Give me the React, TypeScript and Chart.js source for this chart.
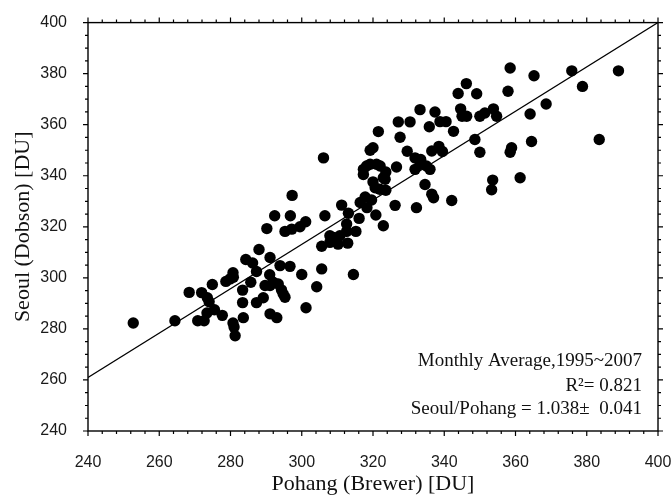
import React, { useEffect, useRef } from "react";
import { Chart, registerables } from "chart.js";

Chart.register(...registerables);

// Monthly average total ozone, Pohang (Brewer) vs Seoul (Dobson), 1995~2007 [DU]
const pohang: number[] = [
  252.7, 264.4, 268.4, 270.8, 272.6, 271.9, 273.5, 274.0, 274.9, 273.4,
  275.5, 277.7, 278.7, 279.9, 280.7, 280.8, 280.7, 281.0, 281.3, 283.6,
  283.4, 283.4, 284.3, 285.7, 286.2, 287.3, 287.3, 288.0, 289.2, 289.7,
  291.0, 291.1, 293.0, 291.1, 292.0, 293.4, 294.3, 294.8, 295.3, 291.1,
  293.9, 296.7, 290.2, 292.4, 296.8, 295.3, 297.2, 299.5, 301.1, 297.3,
  306.5, 300.0, 301.2, 304.2, 305.6, 305.6, 307.9, 307.9, 306.1, 308.9,
  310.7, 312.6, 315.2, 310.2, 312.9, 314.5, 311.2, 313.1, 312.6, 316.1,
  316.4, 317.8, 318.3, 319.6, 320.8, 322.9, 326.2, 317.3, 320.0, 322.9,
  321.9, 323.6, 317.3, 318.2, 319.2, 321.0, 322.0, 323.4, 320.6, 323.6,
  319.2, 320.0, 321.5, 326.6, 329.6, 331.8, 333.4, 331.8, 335.0, 336.0,
  334.6, 336.5, 337.0, 342.1, 332.2, 327.6, 327.1, 330.4, 333.2, 337.4,
  335.8, 338.8, 340.5, 342.6, 336.5, 338.5, 339.5, 343.9, 346.2, 344.6,
  345.0, 346.3, 349.1, 350.0, 351.4, 353.8, 354.7, 348.6, 350.0, 358.5,
  357.9, 365.2, 375.8, 388.9, 378.8, 368.6, 364.1, 358.9, 358.5, 364.5,
  383.5, 353.6, 353.3, 361.3, 333.2,
];
const seoul: number[] = [
  282.3, 283.2, 294.3, 283.2, 283.2, 294.2, 292.2, 290.6, 297.4, 286.2,
  287.5, 285.3, 298.6, 299.6, 302.0, 300.2, 282.3, 280.7, 277.3, 284.4,
  290.3, 295.2, 307.2, 298.3, 305.8, 302.5, 290.3, 311.1, 292.2, 297.0,
  301.2, 285.9, 284.4, 297.0, 298.3, 297.6, 295.3, 293.7, 292.4, 308.0,
  304.8, 304.5, 319.3, 324.3, 324.3, 318.2, 319.1, 320.0, 322.0, 332.3,
  324.3, 301.3, 288.3, 296.5, 303.5, 312.4, 316.5, 313.9, 347.0, 315.8,
  316.5, 318.2, 318.2, 313.2, 313.6, 301.3, 328.5, 325.3, 321.1, 323.3,
  329.5, 331.7, 327.5, 330.5, 324.6, 320.4, 328.4, 340.5, 337.6, 339.2,
  334.7, 341.5, 342.5, 343.8, 344.5, 344.5, 343.8, 338.6, 335.3, 334.3,
  350.0, 351.0, 357.3, 343.4, 349.6, 347.0, 346.4, 342.5, 343.8, 342.5,
  336.6, 332.8, 331.4, 330.3, 327.5, 355.1, 361.1, 361.1, 365.9, 365.0,
  359.2, 361.2, 361.2, 357.4, 349.7, 351.5, 349.5, 372.2, 376.1, 366.2,
  363.3, 363.3, 372.1, 363.3, 364.6, 366.2, 363.3, 354.2, 349.2, 382.2,
  373.1, 379.2, 381.1, 381.1, 375.0, 368.1, 364.2, 351.0, 349.2, 353.4,
  354.2, 338.3, 334.5, 339.2, 344.5,
];

// Fitted line end points
const fitX: number[] = [240, 400];
const fitY: number[] = [261, 400];

// Axis ticks
const xTicks: number[] = [240, 260, 280, 300, 320, 340, 360, 380, 400];
const yTicks: number[] = [240, 260, 280, 300, 320, 340, 360, 380, 400];
const xMinorStep = 4;
const yMinorStep = 5;

const xTitle = "Pohang (Brewer) [DU]";
const yTitle = "Seoul (Dobson) [DU]";
const noteLines: string[] = [
  "Monthly Average,1995~2007",
  "R\u00B2= 0.821",
  "Seoul/Pohang = 1.038\u00B1  0.041",
];

const framePlugin = {
  id: "frameTicks",
  afterDraw(chart: any) {
    const { ctx, chartArea } = chart;
    const { left, right, top, bottom } = chartArea;
    const xs = chart.scales.x;
    const ys = chart.scales.y;
    ctx.save();
    ctx.strokeStyle = "#000";
    ctx.lineWidth = 1.4;
    ctx.strokeRect(left, top, right - left, bottom - top);
    ctx.lineWidth = 1.2;
    ctx.beginPath();
    const x0 = xTicks[0], x1 = xTicks[xTicks.length - 1];
    for (let v = x0; v <= x1 + 1e-6; v += xMinorStep) {
      const p = xs.getPixelForValue(v);
      const len = xTicks.includes(v) ? 5 : 3;
      ctx.moveTo(p, bottom);
      ctx.lineTo(p, bottom + len);
      ctx.moveTo(p, top);
      ctx.lineTo(p, top - len);
    }
    const y0 = yTicks[0], y1 = yTicks[yTicks.length - 1];
    for (let v = y0; v <= y1 + 1e-6; v += yMinorStep) {
      const p = ys.getPixelForValue(v);
      const len = yTicks.includes(v) ? 5 : 3;
      ctx.moveTo(left, p);
      ctx.lineTo(left - len, p);
      ctx.moveTo(right, p);
      ctx.lineTo(right + len, p);
    }
    ctx.stroke();

    // annotation
    ctx.fillStyle = "#111";
    ctx.font = '19px "Liberation Serif", "Times New Roman", serif';
    ctx.textAlign = "right";
    ctx.textBaseline = "middle";
    const tx = right - 16;
    const offs = [69.5, 44.5, 22];
    noteLines.forEach((t, i) => ctx.fillText(t, tx, bottom - offs[i]));
    ctx.restore();
  },
};

export default function App() {
  const ref = useRef<HTMLCanvasElement | null>(null);
  useEffect(() => {
    document.body.style.margin = "0";
    const canvas = ref.current;
    if (!canvas) return;
    const points = pohang.map((x, i) => ({ x, y: seoul[i] }));
    const fit = fitX.map((x, i) => ({ x, y: fitY[i] }));
    const tickFont = { family: '"Liberation Sans", Arial, sans-serif', size: 16 };
    const titleFont = { family: '"Liberation Serif", "Times New Roman", serif', size: 22, lineHeight: 1 };
    const chart = new Chart(canvas, {
      type: "scatter",
      data: {
        datasets: [
          {
            type: "line",
            data: fit,
            borderColor: "#000",
            borderWidth: 1.3,
            pointRadius: 0,
            fill: false,
          } as any,
          {
            data: points,
            backgroundColor: "#000",
            borderColor: "#000",
            borderWidth: 0,
            pointRadius: 5.7,
          },
        ],
      },
      options: {
        animation: false,
        responsive: false,
        devicePixelRatio: 1,
        layout: { padding: { left: 8, right: 14, top: 21, bottom: 0 } },
        plugins: { legend: { display: false }, tooltip: { enabled: false } },
        scales: {
          x: {
            type: "linear",
            min: xTicks[0],
            max: xTicks[xTicks.length - 1],
            afterBuildTicks: (s: any) => {
              s.ticks = xTicks.map((v) => ({ value: v }));
            },
            afterFit: (s: any) => {
              s.height = 64;
              s.paddingLeft = 0;
              s.paddingRight = 0;
            },
            grid: { display: false },
            border: { display: false },
            ticks: { color: "#1a1a1a", font: tickFont, padding: 14, maxRotation: 0 },
            title: { display: true, text: xTitle, color: "#111", font: titleFont, padding: { top: 0, bottom: 0 } },
          },
          y: {
            type: "linear",
            min: yTicks[0],
            max: yTicks[yTicks.length - 1],
            afterBuildTicks: (s: any) => {
              s.ticks = yTicks.map((v) => ({ value: v }));
            },
            afterFit: (s: any) => {
              s.width = 80;
            },
            grid: { display: false },
            border: { display: false },
            ticks: { color: "#1a1a1a", font: tickFont, padding: 13 },
            title: { display: true, text: yTitle, color: "#111", font: titleFont, padding: { top: 4, bottom: 0 } },
          },
        },
      },
      plugins: [framePlugin],
    });
    return () => chart.destroy();
  }, []);
  return (
    <div style={{ width: 672, height: 495, background: "#fff" }}>
      <canvas ref={ref} width={672} height={495} style={{ display: "block" }} />
    </div>
  );
}
